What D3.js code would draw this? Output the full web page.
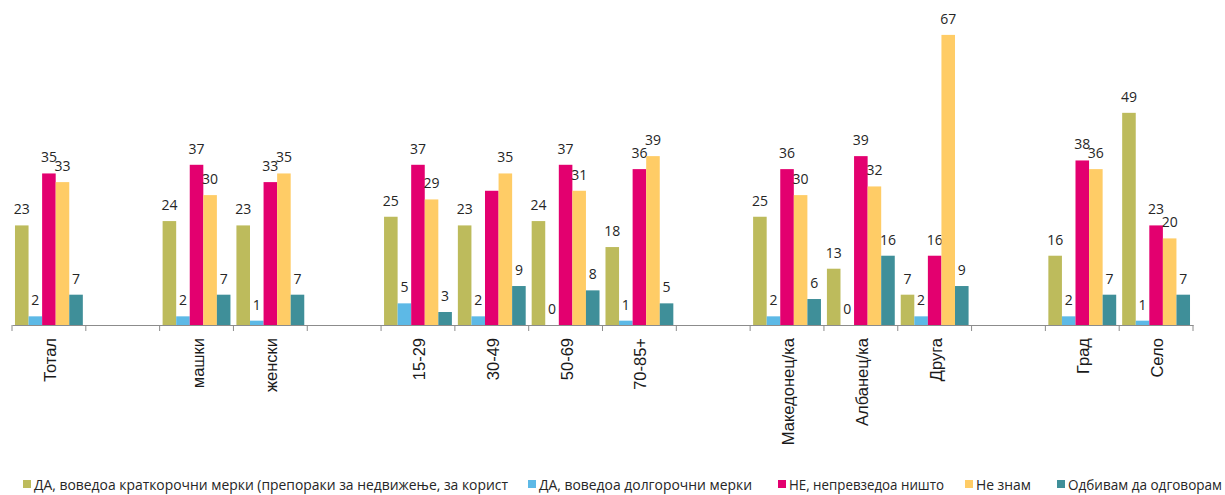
<!DOCTYPE html>
<html>
<head>
<meta charset="utf-8">
<script src="https://cdn.jsdelivr.net/npm/d3@7"></script>
<style>
  html, body { margin: 0; padding: 0; background: #ffffff; }
  svg { display: block; }
  text { font-family: "Open Sans", "Noto Sans", sans-serif; }
</style>
</head>
<body>
<svg id="chart" width="1225" height="495"></svg>
<script>
// ---- data ----
const categories = ["Тотал", "", "машки", "женски", "", "15-29", "30-49", "50-69", "70-85+", "", "Македонец/ка", "Албанец/ка", "Друга", "", "Град", "Село"];
const seriesNames = [
  "ДА, воведоа краткорочни мерки (препораки за недвижење, за корист",
  "ДА, воведоа долгорочни мерки",
  "НЕ, непревзедоа ништо",
  "Не знам",
  "Одбивам да одговорам"
];
const shortTerm = [23, null, 24, 23, null, 25, 23, 24, 18, null, 25, 13, 7, null, 16, 49];
const longTerm  = [2, null, 2, 1, null, 5, 2, 0, 1, null, 2, 0, 2, null, 2, 1];
const nothing   = [35, null, 37, 33, null, 37, 31, 37, 36, null, 36, 39, 16, null, 38, 23];
const dontKnow  = [33, null, 30, 35, null, 29, 35, 31, 39, null, 30, 32, 67, null, 36, 20];
const refuse    = [7, null, 7, 7, null, 3, 9, 8, 5, null, 6, 16, 9, null, 7, 7];
// data labels not shown in the original (series index, category index)
const hiddenLabels = [[2, 6]];

const seriesValues = [shortTerm, longTerm, nothing, dontKnow, refuse];
const colors = ["#BDBB5C", "#5DB9E6", "#E3006F", "#FFCC66", "#3F8F99"];

// ---- layout ----
const svg = d3.select("#chart");
const baseY = 325;
const x0 = d3.scaleBand().domain(d3.range(categories.length)).range([12, 1193]).paddingInner(0).paddingOuter(0);
const x1 = d3.scaleBand().domain(d3.range(seriesValues.length)).range([0, x0.bandwidth()]).paddingInner(0).paddingOuter(0.22);
const y = d3.scaleLinear().domain([0, 70]).range([baseY, baseY - 4.33 * 70]);

const isHidden = (s, c) => hiddenLabels.some(h => h[0] === s && h[1] === c);

// bars
const groups = svg.append("g").selectAll("g.series")
  .data(seriesValues.map((vals, s) => ({ s, vals })))
  .join("g")
  .attr("class", "series")
  .attr("fill", d => colors[d.s]);

groups.selectAll("rect")
  .data(d => d.vals.map((v, c) => ({ s: d.s, c, v })).filter(d => d.v !== null))
  .join("rect")
  .attr("x", d => x0(d.c) + x1(d.s))
  .attr("width", x1.bandwidth())
  .attr("y", d => y(d.v))
  .attr("height", d => y(0) - y(d.v));

// value labels
groups.selectAll("text")
  .data(d => d.vals.map((v, c) => ({ s: d.s, c, v })).filter(d => d.v !== null && !isHidden(d.s, d.c)))
  .join("text")
  .attr("x", d => x0(d.c) + x1(d.s) + x1.bandwidth() / 2)
  .attr("y", d => y(d.v) - 11)
  .attr("text-anchor", "middle")
  .attr("fill", "#262626")
  .style("font-size", "14px")
  .text(d => d.v);

// x axis line & ticks
const axis = d3.axisBottom(x0).tickSize(0).tickFormat("");
const axisG = svg.append("g").attr("transform", `translate(0,${baseY})`).call(axis);
axisG.select(".domain").attr("stroke", "#8c8c8c").attr("stroke-width", 1.2);
axisG.selectAll(".tick").remove();
const boundaries = d3.range(categories.length + 1).map(i => i < categories.length ? x0(i) : x0.range()[1]);
axisG.selectAll("line.bt")
  .data(boundaries)
  .join("line")
  .attr("class", "bt")
  .attr("x1", d => d).attr("x2", d => d)
  .attr("y1", 0).attr("y2", 6)
  .attr("stroke", "#8c8c8c").attr("stroke-width", 1);

// category labels (rotated)
svg.append("g").selectAll("text")
  .data(categories.map((c, i) => ({ c, i })).filter(d => d.c !== ""))
  .join("text")
  .attr("transform", d => `translate(${x0(d.i) + x0.bandwidth() / 2 + 7},${baseY + 13}) rotate(-90)`)
  .attr("text-anchor", "end")
  .attr("fill", "#1a1a1a")
  .style("font-family", "'Liberation Sans', Arial, sans-serif")
  .style("font-size", "16.5px")
  .text(d => d.c);

// legend
const legendX = [23, 528, 778, 965, 1057];
const legendW = [474, 213, 155, 55, 154];
const lg = svg.append("g").selectAll("g")
  .data(seriesNames.map((n, i) => ({ n, i })))
  .join("g")
  .attr("transform", d => `translate(${legendX[d.i]},480)`);
lg.append("rect").attr("width", 8).attr("height", 8).attr("fill", d => colors[d.i]);
lg.append("text")
  .attr("x", 11).attr("y", 9.5)
  .attr("fill", "#262626")
  .style("font-size", "13.8px")
  .attr("textLength", d => legendW[d.i])
  .attr("lengthAdjust", "spacingAndGlyphs")
  .text(d => d.n);
</script>
</body>
</html>
